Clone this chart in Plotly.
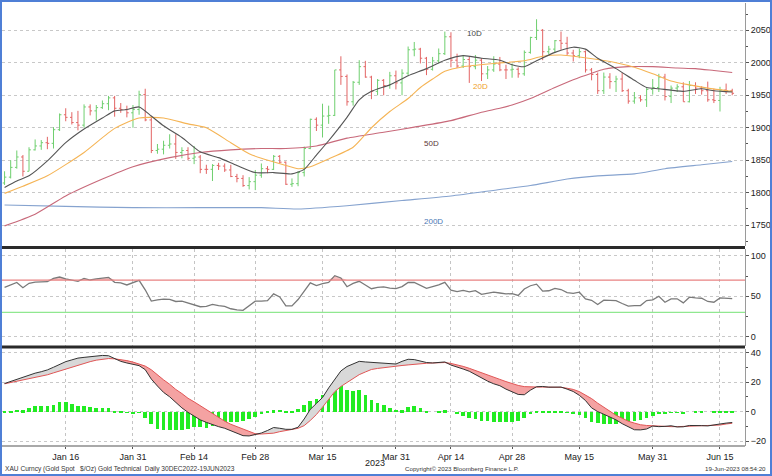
import pandas as pd
import plotly.graph_objects as go
from plotly.subplots import make_subplots

# ---------------- data ----------------
holidays = ["2023-01-02", "2023-04-07"]
dates = [d.strftime("%Y-%m-%d") for d in pd.bdate_range("2022-12-30", "2023-06-19")
         if d.strftime("%Y-%m-%d") not in holidays]

tick_dates = ["2023-01-16", "2023-01-31", "2023-02-14", "2023-02-28", "2023-03-15", "2023-03-31",
              "2023-04-14", "2023-04-28", "2023-05-15", "2023-05-31", "2023-06-15"]
tick_text = ["Jan 16", "Jan 31", "Feb 14", "Feb 28", "Mar 15", "Mar 31",
             "Apr 14", "Apr 28", "May 15", "May 31", "Jun 15"]

opens = [1815, 1824, 1839, 1855, 1833, 1866, 1872, 1877, 1876, 1897,
         1920, 1916, 1908, 1904, 1932, 1926, 1931, 1937, 1946, 1930,
         1928, 1923, 1928, 1951, 1912, 1865, 1867, 1873, 1875, 1862,
         1865, 1853, 1855, 1836, 1836, 1842, 1841, 1835, 1825, 1822,
         1811, 1817, 1827, 1837, 1836, 1856, 1847, 1813, 1814, 1831,
         1868, 1913, 1904, 1918, 1919, 1989, 1979, 1940, 1970, 1994,
         1978, 1956, 1973, 1965, 1980, 1969, 1984, 2020, 2021, 2007,
         1990, 2003, 2014, 2040, 2004, 1995, 2005, 1994, 2004, 1983,
         1989, 1998, 1989, 1989, 1990, 1983, 2016, 2039, 2050, 2017,
         2021, 2034, 2030, 2015, 2011, 2017, 1989, 1982, 1957, 1978,
         1971, 1975, 1957, 1941, 1946, 1943, 1959, 1962, 1978, 1948,
         1961, 1963, 1940, 1965, 1961, 1957, 1943, 1942, 1958, 1957]
highs = [1833, 1850, 1865, 1858, 1870, 1882, 1881, 1886, 1901, 1922,
         1930, 1924, 1926, 1936, 1936, 1935, 1942, 1949, 1949, 1938,
         1934, 1935, 1957, 1960, 1918, 1875, 1880, 1890, 1890, 1870,
         1870, 1872, 1858, 1843, 1844, 1846, 1845, 1843, 1829, 1827,
         1824, 1835, 1845, 1841, 1858, 1858, 1848, 1822, 1833, 1871,
         1914, 1916, 1937, 1934, 1989, 2010, 1982, 1972, 2004, 2003,
         1980, 1975, 1975, 1986, 1988, 1990, 2025, 2032, 2023, 2009,
         2009, 2022, 2048, 2047, 2014, 2012, 2009, 2012, 2007, 1995,
         2010, 2009, 1997, 1999, 1993, 2019, 2040, 2067, 2052, 2026,
         2035, 2048, 2040, 2020, 2022, 2019, 1992, 1985, 1985, 1984,
         1980, 1985, 1960, 1955, 1950, 1961, 1975, 1983, 1983, 1965,
         1967, 1970, 1972, 1970, 1964, 1971, 1960, 1963, 1968, 1960]
lows = [1812, 1822, 1837, 1825, 1833, 1865, 1866, 1867, 1868, 1895,
        1910, 1905, 1896, 1900, 1919, 1911, 1929, 1927, 1917, 1923,
        1916, 1900, 1920, 1910, 1861, 1860, 1859, 1868, 1852, 1853,
        1850, 1844, 1830, 1829, 1818, 1835, 1832, 1824, 1816, 1809,
        1805, 1804, 1823, 1830, 1835, 1845, 1812, 1809, 1810, 1825,
        1867, 1895, 1885, 1906, 1918, 1966, 1934, 1934, 1966, 1977,
        1944, 1950, 1950, 1960, 1959, 1950, 1980, 2010, 1999, 1981,
        1988, 1999, 2012, 1993, 1992, 1992, 1969, 1990, 1972, 1975,
        1986, 1987, 1975, 1977, 1977, 1980, 2014, 2035, 2004, 2013,
        2015, 2020, 2012, 2002, 2007, 1985, 1973, 1952, 1952, 1960,
        1955, 1955, 1937, 1937, 1940, 1932, 1951, 1955, 1942, 1938,
        1955, 1940, 1939, 1952, 1951, 1940, 1938, 1925, 1952, 1950]
closes = [1824, 1839, 1855, 1833, 1866, 1872, 1877, 1876, 1897, 1920,
          1916, 1908, 1904, 1932, 1926, 1931, 1937, 1946, 1930, 1928,
          1923, 1928, 1951, 1912, 1865, 1867, 1873, 1875, 1862, 1865,
          1853, 1855, 1836, 1836, 1842, 1841, 1835, 1825, 1822, 1811,
          1817, 1827, 1837, 1836, 1856, 1847, 1813, 1814, 1831, 1868,
          1913, 1904, 1918, 1919, 1989, 1979, 1940, 1970, 1994, 1978,
          1956, 1973, 1965, 1980, 1969, 1984, 2020, 2021, 2007, 1990,
          2003, 2014, 2040, 2004, 1995, 2005, 1994, 2004, 1983, 1989,
          1998, 1989, 1989, 1990, 1983, 2016, 2039, 2050, 2017, 2021,
          2034, 2030, 2015, 2011, 2017, 1989, 1982, 1957, 1978, 1971,
          1975, 1957, 1941, 1946, 1943, 1959, 1962, 1978, 1948, 1961,
          1963, 1940, 1965, 1961, 1957, 1943, 1942, 1958, 1957, 1953]

# moving averages read at sample days (index into dates)
ma10_days = [0, 2, 4, 7, 10, 13, 16, 18, 20, 22, 24, 26, 29, 32, 35, 38, 41, 44, 47, 49,
             51, 53, 56, 58, 60, 63, 66, 69, 72, 75, 78, 81, 83, 85, 87, 90, 93, 95, 97, 100,
             103, 105, 107, 111, 114, 116, 119]
ma10 = [1808, 1818, 1826, 1849, 1877, 1898, 1915, 1926, 1928, 1932, 1918, 1903, 1885, 1863, 1854,
        1842, 1831, 1831, 1829, 1836, 1858, 1880, 1916, 1943, 1956, 1966, 1980, 1991, 2004, 2011,
        2007, 2004, 1997, 1994, 2003, 2016, 2024, 2021, 2007, 1991, 1973, 1962, 1960, 1956, 1960,
        1957, 1955]
ma20_days = [0, 3, 7, 13, 18, 22, 26, 30, 33, 37, 40, 42, 46, 48, 50, 53, 57, 60, 63, 66,
             68, 70, 72, 75, 80, 85, 88, 91, 94, 97, 100, 103, 106, 109, 112, 115, 119]
ma20 = [1799, 1810, 1826, 1862, 1899, 1915, 1915, 1906, 1900, 1877, 1860, 1853, 1842, 1837, 1840,
        1852, 1870, 1900, 1925, 1945, 1962, 1975, 1987, 1994, 1999, 2003, 2010, 2012, 2009, 2005,
        2000, 1993, 1983, 1972, 1966, 1961, 1956]
ma50_days = [0, 5, 10, 16, 21, 27, 32, 37, 42, 46, 51, 56, 62, 67, 73, 78, 81, 83, 86, 90,
             93, 96, 98, 102, 106, 110, 113, 116, 119]
ma50 = [1749, 1767, 1795, 1821, 1840, 1854, 1862, 1866, 1868, 1868, 1872, 1884, 1893, 1901, 1911,
        1924, 1930, 1935, 1945, 1962, 1974, 1984, 1990, 1994, 1994, 1992, 1991, 1988, 1985]
ma200_days = [0, 10, 21, 32, 42, 48, 56, 65, 73, 81, 86, 92, 97, 103, 108, 114, 119]
ma200 = [1781, 1779, 1777, 1777, 1777, 1775, 1780, 1788, 1795, 1805, 1811, 1821, 1826, 1829,
         1837, 1843, 1848]

rsi = [61, 64, 67, 60.5, 66, 67.5, 67.5, 68, 72, 73.8,
       71.4, 70, 68.5, 72.1, 70.1, 71.4, 72, 73.4, 67.2, 66.5,
       64, 66.5, 69.7, 58, 44, 45.5, 46.5, 46, 43.5, 43.9,
       41.8, 39, 37, 37.5, 39.8, 38.5, 37.5, 34.5, 33, 32.5,
       38, 43.9, 44, 44.5, 52.9, 49.2, 38, 38, 45.9, 56,
       66.5, 63.2, 65.6, 67, 75.5, 72.6, 61.8, 66, 68.5, 64,
       59.3, 61, 61.5, 60, 59.5, 62, 67.2, 67, 63, 59.7,
       62, 64, 67.2, 57.5, 55.8, 57.3, 55.4, 57, 52.3, 53.5,
       55, 54, 52.9, 53.3, 51, 59, 63, 65, 56.3, 56.8,
       59.7, 58.3, 54.5, 53.5, 55, 46.8, 45, 39.8, 45.2, 44.8,
       44.5, 41, 37.7, 38.5, 38.5, 44.7, 45.5, 50, 42.6, 46.8,
       46.8, 41.8, 48.8, 48, 47.5, 43.5, 42.6, 47.9, 47.6, 47.1]

macd = [19, 20.5, 22, 23.5, 24.5, 26, 27, 28.2, 30, 32,
        33.8, 35, 36.2, 36.7, 37.3, 37.4, 38, 37.8, 36, 34,
        32.9, 31.9, 31.1, 28.4, 22, 17.3, 13, 10, 6, 2.5,
        -0.5, -3, -5.6, -7.3, -9, -10.2, -11.3, -13, -14.5, -16.3,
        -16.5, -15.6, -14.5, -12.8, -10.8, -11.3, -12, -12, -10.6, -5,
        1.5, 5.5, 9.5, 16, 21.5, 27.5, 30.5, 32.4, 34, 33.6,
        33.3, 32.8, 32.4, 32.4, 32.2, 34, 35.4, 35.2, 34.2, 33.2,
        32.9, 33.5, 33.6, 31.5, 30.3, 28.8, 27.3, 25, 22.8, 20.6,
        18.8, 17.5, 15.2, 13.3, 11.6, 11.4, 14.5, 16.8, 17, 16.5,
        16.5, 16.6, 15.2, 13.6, 11, 7.5, 2.5, 0, -1.8, -3.8,
        -5.6, -8.2, -10.5, -12.3, -12.4, -11.8, -9.8, -10.2, -10, -9.6,
        -10.4, -10.3, -9.4, -9.3, -9.5, -9.7, -9.3, -8.4, -7.8, -7.4]
signal = [18.8, 19.6, 20.6, 21.7, 22.5, 23.3, 24.1, 24.9, 26.2, 27.5,
          28.8, 30.3, 31.6, 32.8, 33.8, 34.8, 35.6, 35.9, 35.7, 35.2,
          34.5, 33.5, 32.3, 30.8, 28.3, 24.8, 21.5, 18.5, 15, 12.2,
          9, 6.6, 4, 1.2, -1.5, -4.2, -6.5, -8.6, -10.3, -12,
          -13.6, -15, -15.2, -15, -14.6, -13.6, -12.6, -12.1, -11.3, -9.5,
          -6, -2, 3, 8, 13.5, 17, 19.5, 22, 25, 26.8,
          28.5, 29.2, 29.8, 30.4, 30.8, 31.2, 31.6, 32.1, 32.5, 32.7,
          32.9, 33.2, 33.2, 32.6, 31.7, 30.6, 29.3, 27.9, 26.3, 24.8,
          23.3, 21.8, 20.3, 18.9, 17.7, 16.9, 16.6, 16.6, 16.6, 16.6,
          16.6, 16.4, 15.8, 15, 13.5, 11.4, 8.8, 5.7, 3, 0.3,
          -2.5, -4.5, -6.5, -7.8, -8.9, -9.4, -9.7, -10, -10.2, -10.2,
          -10.2, -10.1, -9.9, -9.7, -9.7, -9.7, -9.5, -9.1, -8.4, -7.9]
hist = [0.2, 0.7, 1.6, 1.1, 2.7, 3.9, 4.3, 4.3, 4.5, 6.6,
        6.6, 5.2, 4.3, 4.1, 3.6, 2.9, 2.5, 2.5, 0.9, 0.2,
        -0.5, -1.1, -0.2, -3.9, -8.4, -11.3, -12, -12, -12, -12,
        -11.3, -10.2, -10.2, -10.7, -9.3, -7.9, -7.5, -7, -6.6, -5.7,
        -4.5, -3, -1.6, 0.5, 1.1, 1.6, 0.5, 0.2, 2.3, 5,
        7.5, 9.1, 11.8, 12.5, 15.9, 17.9, 14.7, 14.3, 14.7, 11.3,
        8.4, 6, 4.5, 3, 1.6, 1.1, 3.4, 3.9, 2.7, 0.7,
        0, 0.5, 1.1, 0, -1.6, -2.9, -3.9, -4.5, -5.7, -6.1,
        -6.4, -6.4, -6.4, -6.4, -6.1, -3.9, -1.6, 0.7, 0.2, 0.3,
        0.5, 0.2, -0.2, -0.8, -2, -4, -6.5, -7.7, -7.9, -7.9,
        -7.9, -7.6, -7.3, -6, -5.2, -4.2, -2.6, -1.4, -0.8, -0.3,
        -0.5, -1.1, 0, 0.4, 0.4, 0, 0.2, 0.7, 0.7, 0.7]

rsi_upper, rsi_lower = 70, 30

# ---------------- figure ----------------
FONT = "Liberation Sans"
fig = make_subplots(rows=3, cols=1, shared_xaxes=True, vertical_spacing=0.01)

fig.add_trace(go.Ohlc(x=dates, open=opens, high=highs, low=lows, close=closes,
                      increasing=dict(line=dict(color="#6fcf6f", width=1)),
                      decreasing=dict(line=dict(color="#e36464", width=1)),
                      tickwidth=0.3, hoverinfo="skip"), row=1, col=1)

def sample_x(days):
    return [dates[i] for i in days]

for days, vals, col in [(ma200_days, ma200, "#86a3cf"), (ma50_days, ma50, "#c8697a"),
                        (ma20_days, ma20, "#f5b455"), (ma10_days, ma10, "#555555")]:
    fig.add_trace(go.Scatter(x=sample_x(days), y=vals, mode="lines",
                             line=dict(color=col, width=1.1, shape="spline", smoothing=0.6),
                             hoverinfo="skip"), row=1, col=1)

# RSI
ref70 = [rsi_upper] * len(rsi)
over = [max(r, rsi_upper) for r in rsi]
fig.add_trace(go.Scatter(x=dates, y=ref70, mode="lines", line=dict(width=0), hoverinfo="skip"), row=2, col=1)
fig.add_trace(go.Scatter(x=dates, y=over, mode="lines", line=dict(width=0), fill="tonexty",
                         fillcolor="rgba(240,140,140,0.55)", hoverinfo="skip"), row=2, col=1)
fig.add_trace(go.Scatter(x=dates, y=rsi, mode="lines", line=dict(color="#7a7a7a", width=1.3),
                         hoverinfo="skip"), row=2, col=1)

# MACD fills
upper = [max(m, s) for m, s in zip(macd, signal)]
lower = [min(m, s) for m, s in zip(macd, signal)]
fig.add_trace(go.Scatter(x=dates, y=signal, mode="lines", line=dict(width=0), hoverinfo="skip"), row=3, col=1)
fig.add_trace(go.Scatter(x=dates, y=upper, mode="lines", line=dict(width=0), fill="tonexty",
                         fillcolor="#d8d8d8", hoverinfo="skip"), row=3, col=1)
fig.add_trace(go.Scatter(x=dates, y=signal, mode="lines", line=dict(width=0), hoverinfo="skip"), row=3, col=1)
fig.add_trace(go.Scatter(x=dates, y=lower, mode="lines", line=dict(width=0), fill="tonexty",
                         fillcolor="#f4a2a2", hoverinfo="skip"), row=3, col=1)
fig.add_trace(go.Bar(x=dates, y=hist, width=0.6, marker=dict(color="#22ec22", line=dict(width=0)),
                     hoverinfo="skip"), row=3, col=1)
fig.add_trace(go.Scatter(x=dates, y=signal, mode="lines", line=dict(color="#e05656", width=1),
                         hoverinfo="skip"), row=3, col=1)
fig.add_trace(go.Scatter(x=dates, y=macd, mode="lines", line=dict(color="#333333", width=1),
                         hoverinfo="skip"), row=3, col=1)

# ---------------- layout ----------------
W, H = 772, 476
ML, MR, MT, MB = 2, 27, 3, 30
ph = H - MT - MB
def py(p):  # pixel y -> paper
    return (H - MB - p) / ph
def px(p):
    return (p - ML) / (W - ML - MR)

xcommon = dict(type="category", range=[-0.42, 121.09], tickvals=tick_dates, ticktext=tick_text,
               showline=False, rangeslider=dict(visible=False), fixedrange=True)
fig.update_layout(
    width=W, height=H, margin=dict(l=ML, r=MR, t=MT, b=MB, pad=0),
    paper_bgcolor="white", plot_bgcolor="white", showlegend=False, bargap=0,
    font=dict(family=FONT, size=9, color="#222"),
    xaxis=dict(**xcommon, showgrid=False, showticklabels=False, ticks=""),
    xaxis2=dict(**xcommon, showgrid=True, gridcolor="#c4c4c4", griddash="dot", gridwidth=1,
                showticklabels=False, ticks=""),
    xaxis3=dict(**xcommon, showgrid=True, gridcolor="#c4c4c4", griddash="dot", gridwidth=1,
                showticklabels=True, ticks="outside", ticklen=2, tickcolor="#555",
                tickfont=dict(size=9, color="#222")),
)
ycommon = dict(side="right", showline=True, linecolor="#9a9a9a", linewidth=1, ticks="outside",
               ticklen=3, tickcolor="#555", zeroline=False, showgrid=True, gridcolor="#c8c8c8",
               griddash="dot", gridwidth=1, tickfont=dict(size=9, color="#222"), fixedrange=True)
fig.update_layout(
    yaxis=dict(**ycommon, domain=[py(246), 1.0], range=[1718, 2092],
               tickvals=[1750, 1800, 1850, 1900, 1950, 2000, 2050],
               minor=dict(tickvals=[1725, 1775, 1825, 1875, 1925, 1975, 2025, 2075], ticklen=2,
                          tickcolor="#555", showgrid=False)),
    yaxis2=dict(**ycommon, domain=[py(345.5), py(249)], range=[-11, 108.5], tickvals=[0, 50, 100],
                minor=dict(tickvals=[25, 75], ticklen=2, tickcolor="#555", showgrid=False)),
    yaxis3=dict(**ycommon, domain=[0, py(348.5)], range=[-23.3, 42.7], tickvals=[-20, 0, 20, 40],
                minor=dict(tickvals=[-10, 10, 30], ticklen=2, tickcolor="#555", showgrid=False)),
)

shapes = [
    dict(type="line", xref="x2 domain", yref="y2", x0=0, x1=1, y0=rsi_upper, y1=rsi_upper,
         line=dict(color="#e88282", width=1.2)),
    dict(type="line", xref="x2 domain", yref="y2", x0=0, x1=1, y0=rsi_lower, y1=rsi_lower,
         line=dict(color="#90e890", width=1.2)),
    dict(type="line", xref="paper", yref="paper", x0=0, x1=1, y0=py(247.5), y1=py(247.5),
         line=dict(color="#2a2a2a", width=3)),
    dict(type="line", xref="paper", yref="paper", x0=0, x1=1, y0=py(347), y1=py(347),
         line=dict(color="#2a2a2a", width=3)),
    dict(type="line", xref="paper", yref="paper", x0=0, x1=1, y0=0, y1=0,
         line=dict(color="#555", width=1.2)),
    dict(type="rect", xref="paper", yref="paper", x0=px(1), x1=px(771), y0=py(475), y1=py(1),
         line=dict(color="#4f7fd6", width=2)),
]
fig.update_layout(shapes=shapes)

ann = [
    dict(text="10D", x=76.9, y=2045, xref="x", yref="y", font=dict(size=8, color="#444")),
    dict(text="20D", x=77.8, y=1963, xref="x", yref="y", font=dict(size=8, color="#f0a028")),
    dict(text="50D", x=69.9, y=1875, xref="x", yref="y", font=dict(size=8, color="#5b3535")),
    dict(text="200D", x=70.1, y=1755, xref="x", yref="y", font=dict(size=8, color="#4a78b5")),
    dict(text="2023", x=60.6, y=py(462.5), xref="x3", yref="paper", font=dict(size=9, color="#222")),
    dict(text="XAU Curncy (Gold Spot   $/Oz) Gold Technical  Daily 30DEC2022-19JUN2023",
         x=px(3), y=py(469), xref="paper", yref="paper", xanchor="left",
         font=dict(size=6.6, color="#333")),
    dict(text="Copyright\u00a9 2023 Bloomberg Finance L.P.", x=px(462), y=py(469), xref="paper",
         yref="paper", xanchor="center", font=dict(size=6.2, color="#333")),
    dict(text="19-Jun-2023 08:54:20", x=px(768), y=py(469), xref="paper", yref="paper",
         xanchor="right", font=dict(size=6.2, color="#333")),
]
for a in ann:
    a.setdefault("showarrow", False)
    a.setdefault("yanchor", "middle")
fig.update_layout(annotations=ann)

fig.write_html("out.html", config={"displayModeBar": False},
               post_script="document.body.style.margin='0';document.body.style.overflow='hidden';")
